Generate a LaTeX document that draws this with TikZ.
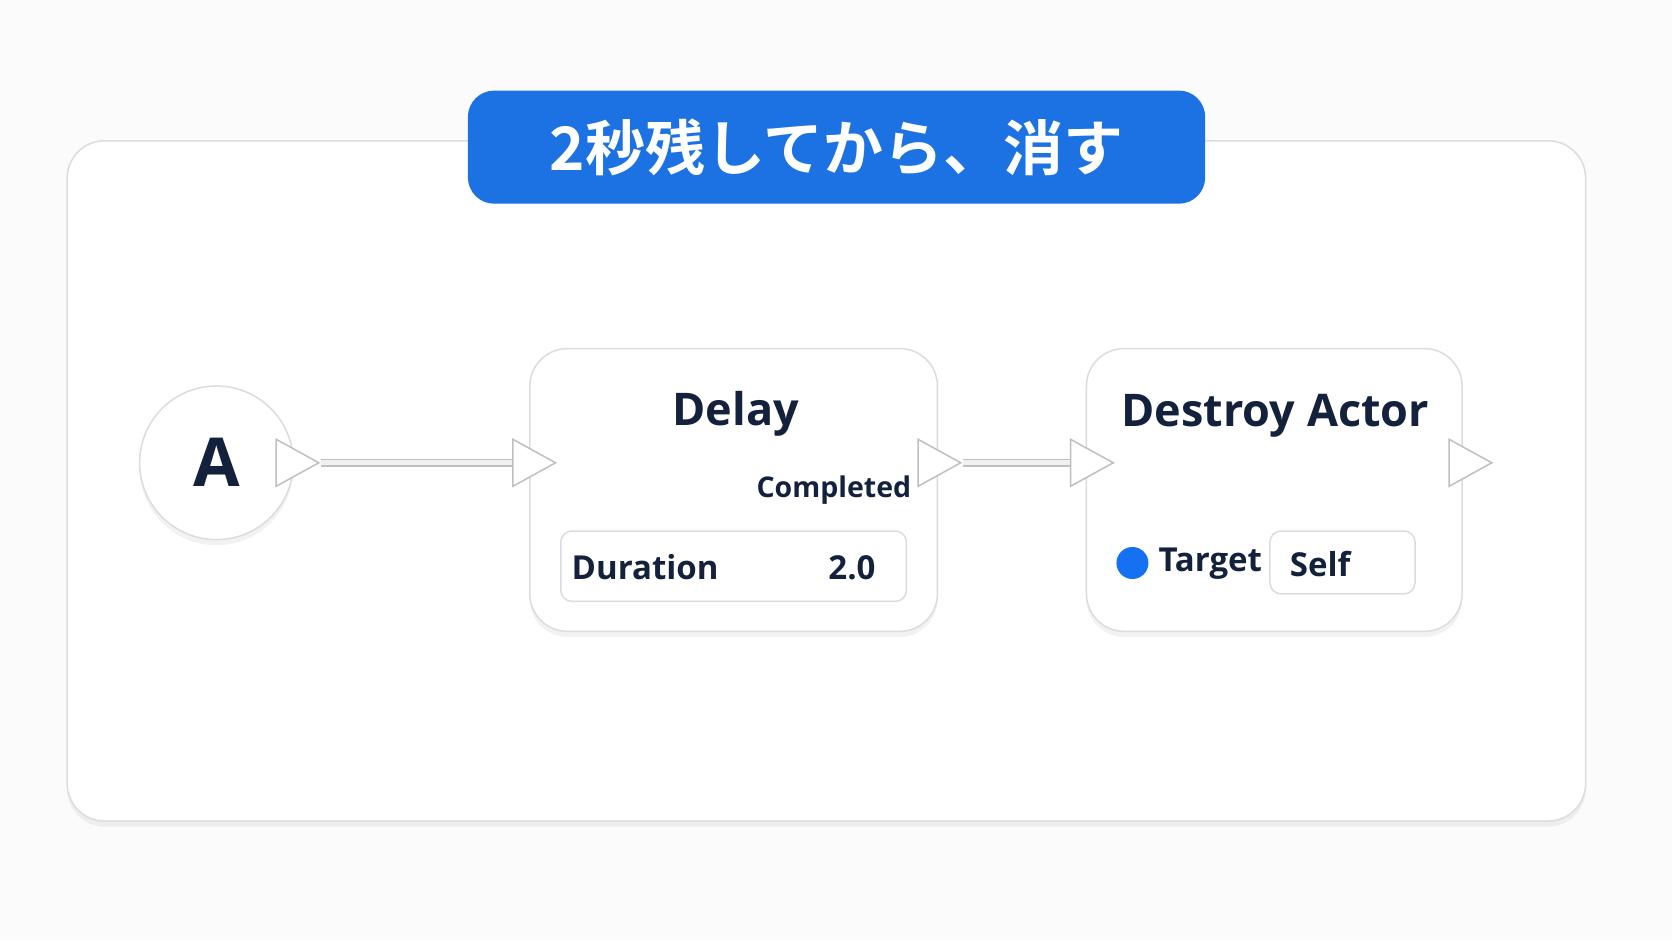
\documentclass[tikz,border=0pt]{standalone}
\usepackage{fontspec}
\setmainfont{Open Sans}
\newfontfamily\cjk{Noto Sans CJK JP}[BoldFont={* Bold}]
\usetikzlibrary{arrows.meta,positioning,shapes.geometric,shadows}
\definecolor{inkblue}{HTML}{14213D}
\definecolor{bannerblue}{HTML}{1C72E3}
\definecolor{dotblue}{HTML}{1570F2}
\definecolor{edgegray}{HTML}{D9DCE1}
\begin{document}
\begin{tikzpicture}[
    x=0.01cm, y=-0.01cm,
    card/.style={draw=edgegray, fill=white, rounded corners=10pt,
      drop shadow={shadow xshift=0pt, shadow yshift=-1.5pt, opacity=0.10}},
    field/.style={draw=edgegray, fill=white, rounded corners=3pt},
    pin/.style={isosceles triangle, draw=gray!50, fill=white, inner sep=0pt,
      minimum width=0.44cm, minimum height=0.40cm, isosceles triangle stretches},
    wire/.style={draw=gray!50, double=gray!12, double distance=1.4pt},
    label_txt/.style={text=inkblue, font=\fontsize{8.8}{10}\selectfont\bfseries}
]

% --- BACKGROUND ---
\fill[gray!3] (0,0) rectangle (1568,882);
\useasboundingbox (0,0) rectangle (1568,882);

% --- FRAME ---
\draw[card] (63,132) rectangle (1487,770);
\node[fill=bannerblue, rounded corners=7pt, minimum width=6.91cm, minimum height=1.06cm,
  text=white, font=\cjk\bfseries\fontsize{16}{20}\selectfont] (title) at (784.5,138) {2秒残してから、消す};

% --- EVENT NODE ---
\node[circle, draw=edgegray, fill=white, minimum size=1.44cm, text=inkblue,
  font=\bfseries\fontsize{18}{22}\selectfont,
  drop shadow={shadow xshift=0pt, shadow yshift=-1.5pt, opacity=0.10}] (ev) at (203,434) {A};
\node[pin] (ev_out) at (272,434) {};

% --- DELAY NODE ---
\node[card, minimum width=3.82cm, minimum height=2.65cm] (delay) at (688,459.5) {};
\node[text=inkblue, font=\fontsize{12}{15}\selectfont\bfseries] at (690,388) {Delay};
\node[label_txt, font=\fontsize{7.6}{10}\selectfont\bfseries] at (782,460) {Completed};
\node[field, minimum width=3.24cm, minimum height=0.66cm] (dur) at (688,531) {};
\node[label_txt] at (605,532) {Duration};
\node[label_txt] at (799,532) {2.0};
\node[pin] (delay_in) at (494,434) {};
\node[pin] (delay_out) at (874,434) {};

% --- DESTROY NODE ---
\node[card, minimum width=3.52cm, minimum height=2.65cm] (destroy) at (1195,459.5) {};
\node[text=inkblue, font=\fontsize{12}{15}\selectfont\bfseries] at (1196,390) {Destroy Actor};
\node[circle, fill=dotblue, minimum size=0.30cm, inner sep=0pt] (tdot) at (1062,528) {};
\node[label_txt] at (1135,529) {Target};
\node[field, minimum width=1.36cm, minimum height=0.59cm] (self) at (1259,527.5) {};
\node[label_txt] at (1238,529) {Self};
\node[pin] (destroy_in) at (1017,434) {};
\node[pin] (destroy_out) at (1372,434) {};

% --- EDGES ---
\draw[wire] (ev_out.apex) -- (delay_in.west);
\draw[wire] (delay_out.apex) -- (destroy_in.west);

\end{tikzpicture}
\end{document}
